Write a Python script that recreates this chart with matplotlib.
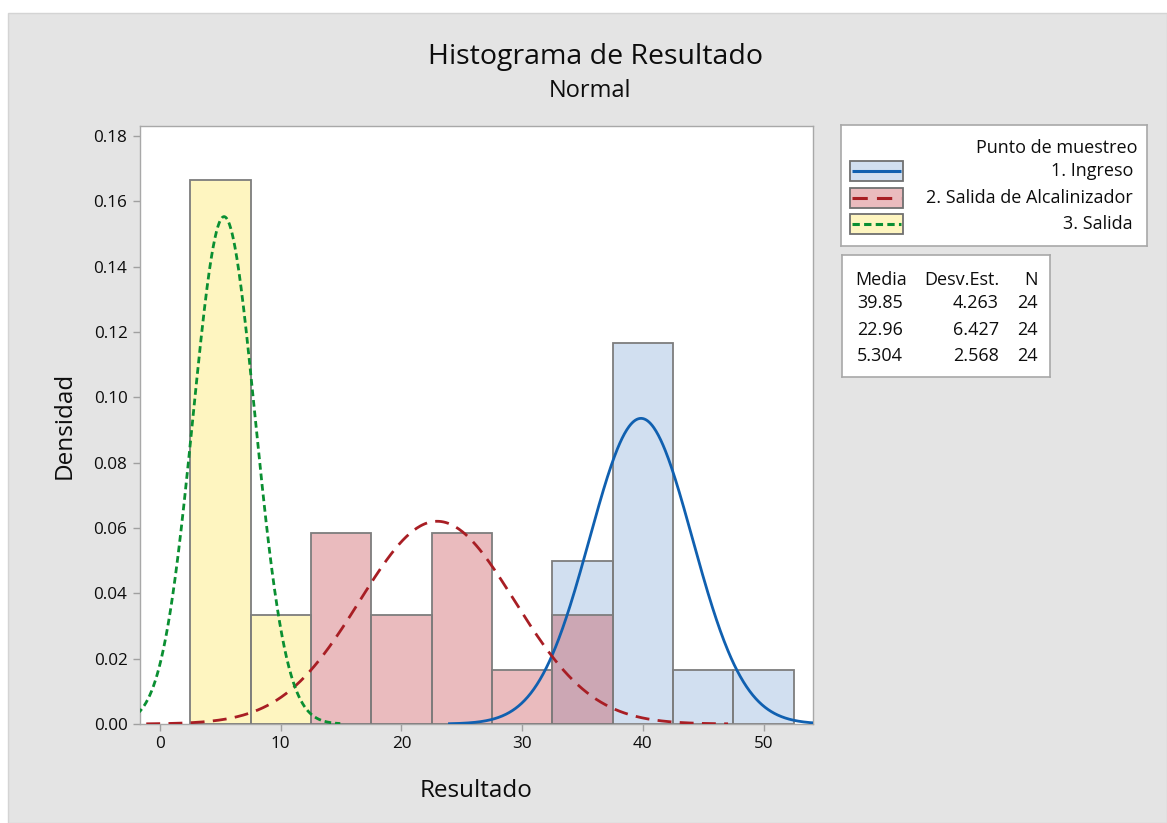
import numpy as np
import matplotlib
matplotlib.use("Agg")
import matplotlib.pyplot as plt
from matplotlib.patches import Rectangle
from matplotlib.lines import Line2D

plt.rcParams['font.family'] = ['Open Sans', 'DejaVu Sans']

# ---------------- data ----------------
groups = ["1. Ingreso", "2. Salida de Alcalinizador", "3. Salida"]
bin_centers = [5, 10, 15, 20, 25, 30, 35, 40, 45, 50]
bin_width = 5
counts_ingreso = [0, 0, 0, 0, 0, 0, 6, 14, 2, 2]
counts_alcalinizador = [0, 0, 7, 4, 7, 2, 4, 0, 0, 0]
counts_salida = [20, 4, 0, 0, 0, 0, 0, 0, 0, 0]
means = [39.85, 22.96, 5.304]
sds = [4.263, 6.427, 2.568]
ns = [24, 24, 24]
mean_labels = ["39.85", "22.96", "5.304"]
sd_labels = ["4.263", "6.427", "2.568"]
x_ticks = [0, 10, 20, 30, 40, 50]
y_ticks = [0.00, 0.02, 0.04, 0.06, 0.08, 0.10, 0.12, 0.14, 0.16, 0.18]

# ---------------- styles ----------------
ALPHA = 0.36
fill_colors = [(130/255, 167/255, 214/255), (197/255, 69/255, 75/255), (253/255, 230/255, 81/255)]
line_colors = ["#1060b0", "#a81e24", "#0a8f32"]
line_styles = [(0, ()), (0, (5, 3)), (0, (2.4, 1.4))]
edge = "#7d7d7d"
TXT = "#0d0d0d"
W, H = 1167, 823

fig = plt.figure(figsize=(W / 100, H / 100), dpi=100)
fig.patch.set_facecolor("white")
fig.patches.append(Rectangle((8 / W, 0), 1 - 8 / W, (H - 13) / H, transform=fig.transFigure,
                             facecolor="#e4e4e4", edgecolor="#d4d4d4", linewidth=1, zorder=-10))

def px_axes(x0, y0, x1, y1):
    return [x0 / W, (H - y1) / H, (x1 - x0) / W, (y1 - y0) / H]

ax = fig.add_axes(px_axes(140, 126, 813, 724))
ax.set_facecolor("white")

all_counts = [counts_ingreso, counts_alcalinizador, counts_salida]
for i, counts in enumerate(all_counts):
    dens = np.array(counts) / (ns[i] * bin_width)
    centers = np.array(bin_centers)
    mask = dens > 0
    ax.bar(centers[mask], dens[mask], width=bin_width, align="center",
           facecolor=(*fill_colors[i], ALPHA), edgecolor=edge, linewidth=1.3, zorder=2 + i)

for i in range(3):
    m, s = means[i], sds[i]
    xs = np.linspace(m - 3.75 * s, m + 3.75 * s, 500)
    ys = np.exp(-0.5 * ((xs - m) / s) ** 2) / (s * np.sqrt(2 * np.pi))
    ax.plot(xs, ys, color=line_colors[i], linestyle=line_styles[i], linewidth=2.0, zorder=10 + i)

ax.set_xlim(-1.66, 54.1)
ax.set_ylim(0, 0.1831)
ax.set_xticks(x_ticks)
ax.set_yticks(y_ticks)
ax.set_xticklabels([str(v) for v in x_ticks])
ax.set_yticklabels([f"{v:.2f}" for v in y_ticks])
ax.tick_params(axis="both", direction="out", length=5, width=1, color="#a0a0a0",
               labelsize=12.3, labelcolor=TXT, pad=4)
for sp in ax.spines.values():
    sp.set_color("#a8a8a8")
    sp.set_linewidth(1.0)

ax.set_xlabel("Resultado", fontsize=17.5, color=TXT, labelpad=19)
ax.set_ylabel("Densidad", fontsize=17.5, color=TXT, labelpad=12)

fig.text(595 / W, 1 - 57 / H, "Histograma de Resultado", ha="center", va="center",
         fontsize=20.5, color=TXT)
fig.text(590 / W, 1 - 91 / H, "Normal", ha="center", va="center", fontsize=17, color=TXT)

# ---------------- legend box ----------------
FS = 13
lg = fig.add_axes(px_axes(841, 125, 1147, 246))
lg.set_xlim(841, 1147)
lg.set_ylim(246, 125)
lg.set_xticks([]); lg.set_yticks([])
lg.set_facecolor("white")
for sp in lg.spines.values():
    sp.set_color("#a8a8a8"); sp.set_linewidth(1.2)
lg.text(1138, 148, "Punto de muestreo", ha="right", va="center", fontsize=FS, color=TXT)
row_y = [171, 198, 224]
for i in range(3):
    y = row_y[i]
    lg.add_patch(Rectangle((850, y - 10), 53, 20, facecolor=(*fill_colors[i], ALPHA),
                           edgecolor="#707070", linewidth=1.3))
    lg.add_line(Line2D([852, 901], [y, y], color=line_colors[i], linestyle=line_styles[i], linewidth=2.2))
    lg.text(1133, y, groups[i], ha="right", va="center", fontsize=FS, color=TXT)

# ---------------- stats box ----------------
st = fig.add_axes(px_axes(842, 255, 1050, 377))
st.set_xlim(842, 1050)
st.set_ylim(377, 255)
st.set_xticks([]); st.set_yticks([])
st.set_facecolor("white")
for sp in st.spines.values():
    sp.set_color("#a8a8a8"); sp.set_linewidth(1.2)
st.text(855, 280, "Media", ha="left", va="center", fontsize=FS, color=TXT)
st.text(999, 280, "Desv.Est.", ha="right", va="center", fontsize=FS, color=TXT)
st.text(1038, 280, "N", ha="right", va="center", fontsize=FS, color=TXT)
stat_y = [303, 330, 356]
for i in range(3):
    st.text(857, stat_y[i], mean_labels[i], ha="left", va="center", fontsize=FS, color=TXT)
    st.text(999, stat_y[i], sd_labels[i], ha="right", va="center", fontsize=FS, color=TXT)
    st.text(1038, stat_y[i], str(ns[i]), ha="right", va="center", fontsize=FS, color=TXT)

fig.savefig("out.png", dpi=100, facecolor=fig.get_facecolor())
